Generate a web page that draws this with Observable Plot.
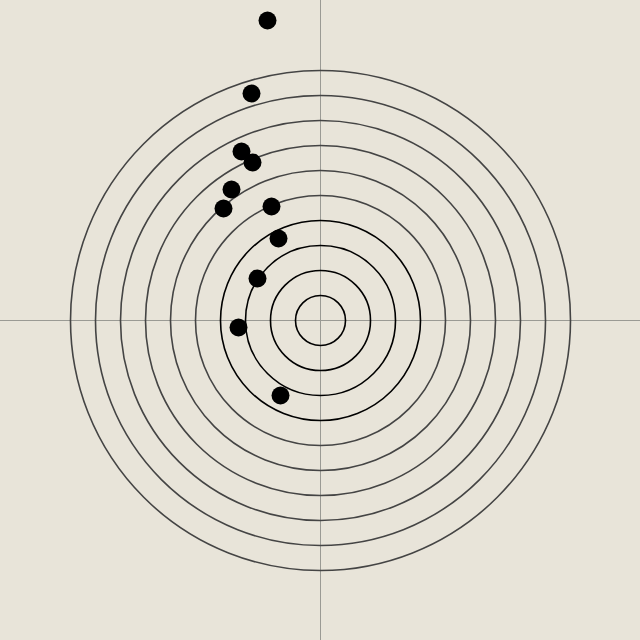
<!DOCTYPE html>
<html>
<head>
<meta charset="utf-8">
<script src="https://cdn.jsdelivr.net/npm/d3@7"></script>
<script src="https://cdn.jsdelivr.net/npm/@observablehq/plot@0.6"></script>
<style>
  html, body { margin: 0; padding: 0; background: #e8e4d9; }
  #chart svg { display: block; }
</style>
</head>
<body>
<div id="chart"></div>
<script>
// Ring scores (ring radius in target units)
const rings = [1, 2, 3, 4, 5, 6, 7, 8, 9, 10];
const innerRings = [1, 2, 3, 4];
// Shot positions in target units
const shotX = [-2.12, -2.76, -3.16, -2.72, -3.56, -3.88, -1.96, -1.68, -2.52, -3.28, -1.6];
const shotY = [12.0, 9.08, 6.76, 6.32, 5.24, 4.48, 4.56, 3.28, 1.68, -0.28, -3.0];

const shots = shotX.map((x, i) => ({x, y: shotY[i]}));
const ringData = rings.map(r => ({r, inner: innerRings.includes(r)}));

const chart = Plot.plot({
  width: 640,
  height: 640,
  margin: 0,
  style: {background: "#e8e4d9"},
  x: {domain: [-12.8, 12.8], axis: null},
  y: {domain: [-12.8, 12.8], axis: null},
  r: {type: "linear", domain: [0, 12.8], range: [0, 320]},
  marks: [
    Plot.ruleX([0], {stroke: "#9a9a94", strokeWidth: 1}),
    Plot.ruleY([0], {stroke: "#9a9a94", strokeWidth: 1}),
    Plot.dot(ringData, {x: () => 0, y: () => 0, r: "r", fill: "none",
      stroke: d => d.inner ? "#000000" : "#444444", strokeWidth: 1.6}),
    Plot.dot(shots, {x: "x", y: "y", r: 9, fill: "#000000", stroke: "none"})
  ]
});
document.getElementById("chart").appendChild(chart);
</script>
</body>
</html>
